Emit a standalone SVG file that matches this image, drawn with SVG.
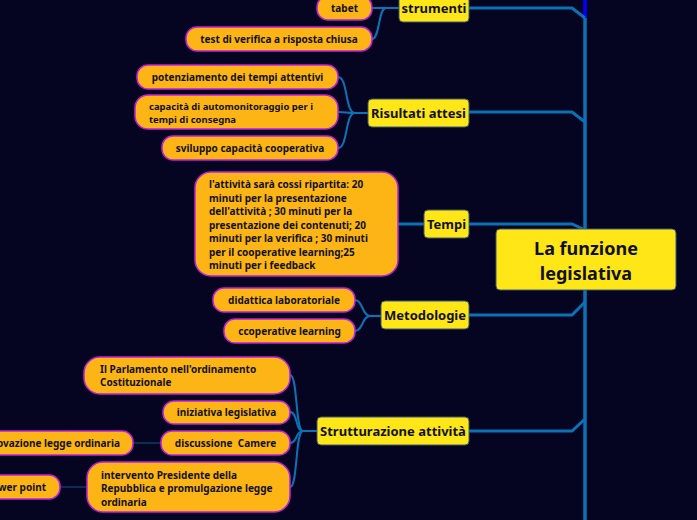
<svg xmlns="http://www.w3.org/2000/svg" width="697" height="520" viewBox="0 0 697 520">
<style>
.bg{fill:#050421}
.spine{stroke:#0b72b5;stroke-width:3.5;fill:none}
.br{stroke:#0b72b5;stroke-width:3;fill:none}
.cv{stroke:#0b72b5;stroke-width:2;fill:none}
.thin{stroke:#0a3d66;stroke-width:1.5;fill:none}
.main{fill:#ffe617;stroke:#3a5a70;stroke-width:1}
.topic{fill:#ffe617;stroke:#3a5a70;stroke-width:1}
.leaf{fill:#fdb515;stroke:#c21fe0;stroke-width:1.5}
text{font-family:"Noto Sans","Open Sans","DejaVu Sans",sans-serif;fill:#111;font-weight:bold}
.tm{font-size:18px;text-anchor:middle}
.tt{font-size:13px;text-anchor:middle}
.tl{font-size:10px;text-anchor:middle}
.tla{font-size:10px}
</style>
<rect class="bg" x="0" y="0" width="697" height="520"/>
<g id="connectors">
  <line x1="585" y1="0" x2="585" y2="18" stroke="#0000ff" stroke-width="3.5"/>
  <line class="spine" x1="585" y1="18" x2="585" y2="520"/>
  <path class="br" d="M469,8 H572 L585,18"/>
  <path class="br" d="M469,112 H572 L585,122"/>
  <path class="br" d="M469,224 H572 L585,230"/>
  <path class="br" d="M469,315 H572 L585,302"/>
  <path class="br" d="M469,431 H572 L585,419"/>
  <path class="cv" d="M399,8 H386 C380,8 378,8 372,8"/>
  <path class="cv" d="M386,8 C378,8 380,39 372,39"/>
  <path class="cv" d="M368,113 H355 C345,113 348,77 338,77"/>
  <path class="cv" d="M355,113 C345,113 348,112 338,112"/>
  <path class="cv" d="M355,113 C345,113 348,148 338,148"/>
  <line class="br" x1="398" y1="224" x2="424" y2="224"/>
  <path class="cv" d="M381,316 H370 C362,316 363,300 355,300"/>
  <path class="cv" d="M370,316 C362,316 363,331 355,331"/>
  <path class="cv" d="M317,431 H303 C295,431 298,375 290,375"/>
  <path class="cv" d="M303,431 C295,431 298,412 290,412"/>
  <path class="cv" d="M303,431 C295,431 298,443 290,443"/>
  <path class="cv" d="M303,431 C295,431 298,487 290,487"/>
  <line class="thin" x1="133" y1="443" x2="161" y2="443"/>
  <line class="thin" x1="60" y1="487" x2="87" y2="487"/>
</g>
<g id="main">
  <rect class="main" x="496" y="229" width="180" height="61" rx="4"/>
  <text class="tm" x="586" y="255">La funzione</text>
  <text class="tm" x="586" y="280">legislativa</text>
</g>
<g id="strumenti">
  <rect class="topic" x="399" y="-6" width="70" height="28" rx="4"/>
  <text class="tt" x="434" y="13">strumenti</text>
</g>
<g id="tabet">
  <rect class="leaf" x="317" y="-4" width="55" height="24" rx="11"/>
  <text class="tl" x="344.5" y="12">tabet</text>
</g>
<g id="test">
  <rect class="leaf" x="186" y="27" width="186" height="24" rx="11"/>
  <text class="tl" x="279" y="43">test di verifica a risposta chiusa</text>
</g>
<g id="risultati">
  <rect class="topic" x="368" y="99" width="101" height="28" rx="4"/>
  <text class="tt" x="418.5" y="117.5">Risultati attesi</text>
</g>
<g id="potenziamento">
  <rect class="leaf" x="137" y="65" width="201" height="24" rx="11"/>
  <text class="tl" x="237.5" y="81">potenziamento dei tempi attentivi</text>
</g>
<g id="automonitoraggio">
  <rect class="leaf" x="135" y="95" width="203" height="34" rx="13"/>
  <text class="tla" x="149" y="110" style="font-size:9.5px">capacità di automonitoraggio per i</text>
  <text class="tla" x="149" y="123" style="font-size:9.5px">tempi di consegna</text>
</g>
<g id="cooperativa">
  <rect class="leaf" x="162" y="136" width="176" height="24" rx="11"/>
  <text class="tl" x="250" y="152">sviluppo capacità cooperativa</text>
</g>
<g id="tempi">
  <rect class="topic" x="424" y="210" width="45" height="28" rx="4"/>
  <text class="tt" x="446.5" y="228.5">Tempi</text>
</g>
<g id="ripartizione">
  <rect class="leaf" x="195" y="172" width="203" height="104" rx="16"/>
  <text class="tla" x="209" y="188">l'attività sarà cossi ripartita: 20</text>
  <text class="tla" x="209" y="202">minuti per la presentazione</text>
  <text class="tla" x="209" y="215">dell'attività ; 30 minuti per la</text>
  <text class="tla" x="209" y="229">presentazione dei contenuti; 20</text>
  <text class="tla" x="209" y="242">minuti per la verifica ; 30 minuti</text>
  <text class="tla" x="209" y="256">per il cooperative learning;25</text>
  <text class="tla" x="209" y="269">minuti per i feedback</text>
</g>
<g id="metodologie">
  <rect class="topic" x="381" y="301" width="88" height="28" rx="4"/>
  <text class="tt" x="425" y="320">Metodologie</text>
</g>
<g id="laboratoriale">
  <rect class="leaf" x="213" y="288" width="142" height="24" rx="11"/>
  <text class="tl" x="284" y="304">didattica laboratoriale</text>
</g>
<g id="ccoperative">
  <rect class="leaf" x="224" y="319" width="131" height="24" rx="11"/>
  <text class="tl" x="289.5" y="335">ccoperative learning</text>
</g>
<g id="strutturazione">
  <rect class="topic" x="317" y="417" width="152" height="28" rx="4"/>
  <text class="tt" x="393" y="436">Strutturazione attività</text>
</g>
<g id="parlamento">
  <rect class="leaf" x="84" y="357" width="206" height="37" rx="16"/>
  <text class="tla" x="100" y="373">Il Parlamento nell'ordinamento</text>
  <text class="tla" x="100" y="386">Costituzionale</text>
</g>
<g id="iniziativa">
  <rect class="leaf" x="163" y="401" width="127" height="23" rx="11"/>
  <text class="tl" x="226.5" y="416">iniziativa legislativa</text>
</g>
<g id="discussione">
  <rect class="leaf" x="161" y="431" width="129" height="24" rx="11"/>
  <text class="tl" x="225.5" y="447" xml:space="preserve">discussione  Camere</text>
</g>
<g id="approvazione">
  <rect class="leaf" x="-20" y="431" width="153" height="24" rx="11"/>
  <text class="tl" x="120" y="447" style="text-anchor:end">approvazione legge ordinaria</text>
</g>
<g id="intervento">
  <rect class="leaf" x="87" y="462" width="203" height="50" rx="16"/>
  <text class="tla" x="101" y="479">intervento Presidente della</text>
  <text class="tla" x="101" y="492">Repubblica e promulgazione legge</text>
  <text class="tla" x="101" y="506">ordinaria</text>
</g>
<g id="powerpoint">
  <rect class="leaf" x="-20" y="475" width="80" height="24" rx="11"/>
  <text class="tl" x="46" y="491" style="text-anchor:end">power point</text>
</g>
</svg>
